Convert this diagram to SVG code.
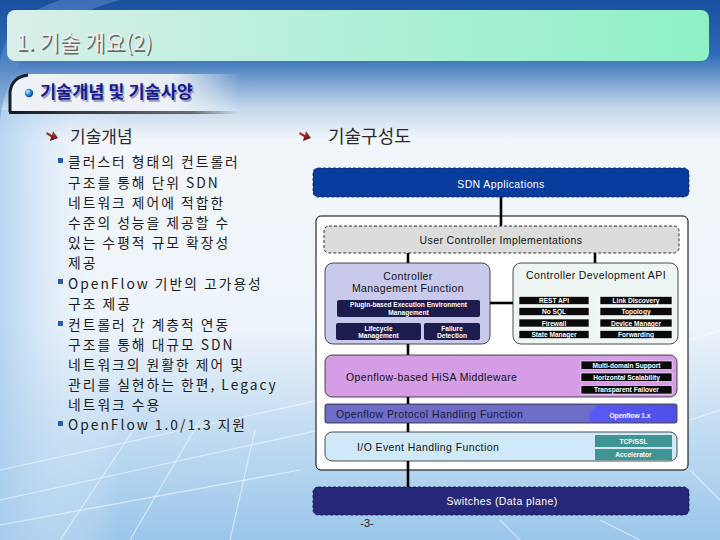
<svg xmlns="http://www.w3.org/2000/svg" width="720" height="540" viewBox="0 0 720 540">
<defs>
<linearGradient id="bg" x1="0" y1="0" x2="0" y2="1">
<stop offset="0" stop-color="#184f9f"/>
<stop offset="0.1" stop-color="#2e6ab6"/>
<stop offset="0.2" stop-color="#c4d8ec"/>
<stop offset="0.26" stop-color="#f2f6fa"/>
<stop offset="0.6" stop-color="#eef4fb"/>
<stop offset="0.8" stop-color="#c2dcf2"/>
<stop offset="1" stop-color="#9ac6ea"/>
</linearGradient>
<linearGradient id="leftTint" x1="0" y1="0" x2="1" y2="0">
<stop offset="0" stop-color="#a9cdee" stop-opacity="0.8"/>
<stop offset="1" stop-color="#ffffff" stop-opacity="0"/>
</linearGradient>
<linearGradient id="banner" x1="0" y1="0" x2="1" y2="0">
<stop offset="0" stop-color="#d9efe8"/>
<stop offset="0.5" stop-color="#b0f0d8"/>
<stop offset="1" stop-color="#8ff0c6"/>
</linearGradient>
<linearGradient id="subbar" x1="0" y1="0" x2="1" y2="0">
<stop offset="0" stop-color="#eef2f6"/>
<stop offset="0.7" stop-color="#f4f6f9" stop-opacity="0.9"/>
<stop offset="1" stop-color="#ffffff" stop-opacity="0"/>
</linearGradient>
<linearGradient id="subline" x1="0" y1="0" x2="1" y2="0">
<stop offset="0" stop-color="#101820"/>
<stop offset="0.8" stop-color="#303840" stop-opacity="0.7"/>
<stop offset="1" stop-color="#303840" stop-opacity="0"/>
</linearGradient>
<radialGradient id="sphere" cx="0.35" cy="0.35" r="0.7">
<stop offset="0" stop-color="#d8f2ff"/>
<stop offset="0.5" stop-color="#2a8ee0"/>
<stop offset="1" stop-color="#0a3a80"/>
</radialGradient>
<linearGradient id="ofblob" x1="0" y1="0" x2="1" y2="0">
<stop offset="0" stop-color="#5a5af4"/>
<stop offset="1" stop-color="#4e4ee8"/>
</linearGradient>
<linearGradient id="arrowg" x1="0" y1="0" x2="0" y2="1">
<stop offset="0" stop-color="#c04040"/>
<stop offset="1" stop-color="#5a0c0c"/>
</linearGradient>
<style>
.ko{font-family:"Noto Sans CJK KR","Noto Sans",sans-serif;}
.body{font-size:13.8px;fill:#1c1c1c;letter-spacing:2px;}
.head{font-size:17px;fill:#2a2a2a;}
.lbl{font-family:"Liberation Sans","DejaVu Sans",sans-serif;font-size:10.5px;letter-spacing:0.4px;}
.tiny{font-family:"Liberation Sans","DejaVu Sans",sans-serif;font-size:6.6px;font-weight:bold;fill:#ffffff;text-anchor:middle;}
.blk{fill:#0a0a0a;stroke:#ffffff;stroke-width:0.6;}
.nav{fill:#1c1c4e;}
.teal{fill:#3f9494;}
.conn line{stroke:#000000;stroke-width:2.6;}
.sq{fill:#2a5cb0;}
.arr{fill:url(#arrowg);}
</style>
</defs>

<!-- background -->
<rect x="0" y="0" width="720" height="540" fill="url(#bg)"/>
<rect x="0" y="110" width="120" height="430" fill="url(#leftTint)"/>
<g stroke="#ffffff" stroke-opacity="0.55" stroke-width="1.2" fill="none">
<line x1="0" y1="470" x2="320" y2="400"/>
<line x1="0" y1="500" x2="320" y2="430"/>
<line x1="0" y1="525" x2="300" y2="470"/>
<line x1="60" y1="540" x2="140" y2="420"/>
<line x1="130" y1="540" x2="200" y2="420"/>
<line x1="230" y1="540" x2="255" y2="430"/>
<line x1="690" y1="340" x2="720" y2="330"/>
<line x1="690" y1="420" x2="720" y2="410"/>
<line x1="690" y1="470" x2="720" y2="500"/>
<line x1="600" y1="520" x2="640" y2="540"/>
<line x1="500" y1="520" x2="520" y2="540"/>
</g>
<path d="M0 120 Q10 30 120 0 L60 0 Q0 20 0 70 Z" fill="#5f90cc" opacity="0.5"/>

<!-- title banner -->
<rect x="7" y="10" width="702" height="51" rx="8" fill="url(#banner)"/>
<text x="17.5" y="51.5" class="ko" font-size="22" fill="#6a6a6a">1. 기술 개요(2)</text>
<text x="16" y="50" class="ko" font-size="22" fill="#eeeeee">1. 기술 개요(2)</text>

<!-- subtitle bar -->
<path d="M9 113 L9 92 Q11 76 28 74 L240 74 L240 113 Z" fill="url(#subbar)"/>
<path d="M10 112 L10 92 Q12 77 28 75" fill="none" stroke="#18202c" stroke-width="3"/>
<rect x="9" y="111" width="230" height="3" fill="url(#subline)"/>
<circle cx="29" cy="93" r="4.2" fill="url(#sphere)"/>
<text x="41.5" y="99.5" class="ko" font-size="17.5" font-weight="bold" fill="#9aa0c0">기술개념 및 기술사양</text>
<text x="40" y="98" class="ko" font-size="17.5" font-weight="bold" fill="#1a1a90">기술개념 및 기술사양</text>

<!-- left column -->
<g id="left-text">
<path d="M47 132 L52 135 L53 131 L58 138 L50 141 L51 137 L46 134 Z" class="arr"/>
<text x="70" y="143" class="ko head">기술개념</text>
<rect x="58" y="158" width="5" height="5" class="sq"/>
<rect x="58" y="279" width="5" height="5" class="sq"/>
<rect x="58" y="321" width="5" height="5" class="sq"/>
<rect x="58" y="421" width="5" height="5" class="sq"/>
<text class="ko body">
<tspan x="68" y="167">클러스터 형태의 컨트롤러</tspan>
<tspan x="68" y="187.5">구조를 통해 단위 SDN</tspan>
<tspan x="68" y="208">네트워크 제어에 적합한</tspan>
<tspan x="68" y="228">수준의 성능을 제공할 수</tspan>
<tspan x="68" y="248">있는 수평적 규모 확장성</tspan>
<tspan x="68" y="268">제공</tspan>
<tspan x="68" y="288.5">OpenFlow 기반의 고가용성</tspan>
<tspan x="68" y="308.5">구조 제공</tspan>
<tspan x="68" y="329.5">컨트롤러 간 계층적 연동</tspan>
<tspan x="68" y="349.5">구조를 통해 대규모 SDN</tspan>
<tspan x="68" y="369.5">네트워크의 원활한 제어 및</tspan>
<tspan x="68" y="389.5">관리를 실현하는 한편, Legacy</tspan>
<tspan x="68" y="409.5">네트워크 수용</tspan>
<tspan x="68" y="430">OpenFlow 1.0/1.3 지원</tspan>
</text>
</g>

<!-- right heading -->
<g id="right-heading">
<path d="M300 132 L305 135 L306 131 L311 138 L303 141 L304 137 L299 134 Z" class="arr"/>
<text x="328" y="143" class="ko" font-size="18" fill="#2a2a2a">기술구성도</text>
</g>

<!-- outer container -->
<g id="container">
<rect x="316" y="216" width="372" height="254" rx="5" fill="#ffffff" stroke="#000" stroke-width="1"/>
</g>

<!-- connectors -->
<g class="conn" id="connectors">
<line x1="501" y1="197" x2="501" y2="226"/>
<line x1="408" y1="253" x2="408" y2="263"/>
<line x1="595" y1="253" x2="595" y2="263"/>
<line x1="490" y1="303" x2="513" y2="303"/>
<line x1="408" y1="344" x2="408" y2="355"/>
<line x1="408" y1="397" x2="408" y2="404"/>
<line x1="408" y1="423" x2="408" y2="432"/>
<line x1="408" y1="461" x2="408" y2="487"/>
</g>

<g id="sdn-apps">
<rect x="313" y="168" width="376" height="29" rx="5" fill="#083c9c" stroke="#1a2050" stroke-width="0.8" stroke-dasharray="3 2"/>
<text x="501" y="187.5" class="lbl" fill="#ffffff" text-anchor="middle">SDN Applications</text>
</g>

<g id="user-controller">
<rect x="324" y="226" width="355" height="27" rx="5" fill="#dcdcdc" stroke="#000" stroke-width="0.8" stroke-dasharray="3 2"/>
<text x="501" y="244" class="lbl" fill="#111" text-anchor="middle">User Controller Implementations</text>
</g>

<g id="controller-mgmt">
<rect x="325" y="263" width="165" height="81" rx="8" fill="#c9c9ec" stroke="#222" stroke-width="0.8"/>
<text x="408" y="280" class="lbl" fill="#111" text-anchor="middle">Controller</text>
<text x="408" y="292" class="lbl" fill="#111" text-anchor="middle">Management Function</text>
<rect x="337" y="300" width="143" height="17" rx="2" class="nav"/>
<text x="408.5" y="307" class="tiny">Plugin-based Execution Environment</text>
<text x="408.5" y="314.5" class="tiny">Management</text>
<rect x="336" y="323" width="85" height="17" rx="2" class="nav"/>
<text x="378.5" y="330.5" class="tiny">Lifecycle</text>
<text x="378.5" y="337.8" class="tiny">Management</text>
<rect x="424" y="323" width="56" height="17" rx="2" class="nav"/>
<text x="452" y="330.5" class="tiny">Failure</text>
<text x="452" y="337.8" class="tiny">Detection</text>
</g>

<g id="controller-api">
<rect x="513" y="263" width="165" height="81" rx="8" fill="#eef6f4" stroke="#222" stroke-width="0.8"/>
<text x="596" y="279" class="lbl" fill="#111" text-anchor="middle">Controller Development API</text>
<rect x="519" y="296.5" width="70" height="8" class="blk"/>
<text x="554" y="303" class="tiny">REST API</text>
<rect x="519" y="307.5" width="70" height="8" class="blk"/>
<text x="554" y="314" class="tiny">No SQL</text>
<rect x="519" y="319" width="70" height="8" class="blk"/>
<text x="554" y="325.5" class="tiny">Firewall</text>
<rect x="519" y="330.5" width="70" height="8" class="blk"/>
<text x="554" y="337" class="tiny">State Manager</text>
<rect x="600" y="296.5" width="72" height="8" class="blk"/>
<text x="636" y="303" class="tiny">Link Discovery</text>
<rect x="600" y="307.5" width="72" height="8" class="blk"/>
<text x="636" y="314" class="tiny">Topology</text>
<rect x="600" y="319" width="72" height="8" class="blk"/>
<text x="636" y="325.5" class="tiny">Device Manager</text>
<rect x="600" y="330.5" width="72" height="8" class="blk"/>
<text x="636" y="337" class="tiny">Forwarding</text>
</g>

<g id="middleware">
<rect x="325" y="355" width="352" height="42" rx="7" fill="#d49de6" stroke="#222" stroke-width="0.8"/>
<text x="346" y="380.5" class="lbl" fill="#111">Openflow-based HiSA Middleware</text>
<rect x="581" y="361" width="91" height="8.5" class="blk"/>
<text x="626.5" y="367.6" class="tiny">Multi-domain Support</text>
<rect x="581" y="373" width="91" height="8.5" class="blk"/>
<text x="626.5" y="379.6" class="tiny">Horizontal Scalability</text>
<rect x="581" y="385.5" width="91" height="8.5" class="blk"/>
<text x="626.5" y="392.1" class="tiny">Transparent Failover</text>
</g>

<g id="protocol">
<rect x="325" y="404" width="352" height="19" rx="2" fill="#6e6ec8" stroke="#222" stroke-width="0.8"/>
<path d="M598 405 L676 405 L676 422 L590 422 Q586 412 598 405 Z" fill="url(#ofblob)"/>
<text x="336" y="418" class="lbl" fill="#1a1a3a">Openflow Protocol Handling Function</text>
<text x="630" y="418" class="tiny">Openflow 1.x</text>
</g>

<g id="io-event">
<rect x="325" y="432" width="352" height="29" rx="7" fill="#cfe9f8" stroke="#222" stroke-width="0.8"/>
<text x="357" y="451" class="lbl" fill="#111">I/O Event Handling Function</text>
<rect x="595" y="435" width="77" height="12" class="teal"/>
<text x="633.5" y="443.5" class="tiny">TCP/SSL</text>
<rect x="595" y="449" width="77" height="11" class="teal"/>
<text x="633.5" y="457" class="tiny">Accelerator</text>
</g>

<g id="switches">
<rect x="313" y="487" width="376" height="28" rx="5" fill="#28287a" stroke="#10103a" stroke-width="0.8" stroke-dasharray="3 2"/>
<text x="502" y="505" class="lbl" fill="#ffffff" text-anchor="middle">Switches (Data plane)</text>
</g>

<text x="367" y="527" font-family="Liberation Sans, sans-serif" font-size="11" fill="#222" text-anchor="middle">-3-</text>
</svg>
